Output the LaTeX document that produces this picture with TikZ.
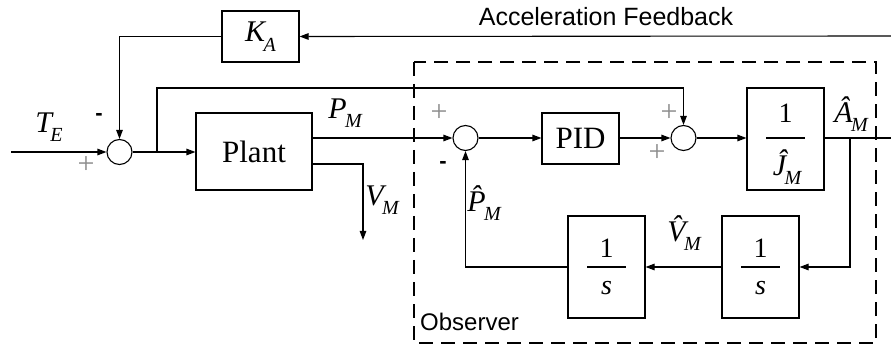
\documentclass[tikz,border=0pt]{standalone}
\usepackage{fontspec}
\setmainfont{Liberation Serif}
\setsansfont{Liberation Sans}
\usetikzlibrary{arrows.meta}
\newcommand{\fs}[1]{\fontsize{#1}{#1}\selectfont}
\newcommand{\msub}[2]{{\itshape #1}\hspace{-0.05em}\raisebox{-0.32em}{\fs{20}\itshape #2}}
\tikzset{
  blk/.style={draw, line width=1.1pt, inner sep=0pt},
  sumc/.style={draw, circle, line width=1.1pt, minimum size=25pt, inner sep=0pt},
  conn/.style={line width=1.1pt},
  arr/.style={conn, -{Triangle[length=9pt,width=6.5pt]}},
  sgn/.style={text=gray!90, font=\fs{30}, inner sep=0pt},
  mns/.style={font=\sffamily\bfseries\fs{22}, inner sep=0pt},
  lab/.style={font=\fs{30}, inner sep=0pt},
  frac/.style={font=\fs{28}, inner sep=0pt}
}
\begin{document}
\begin{tikzpicture}[x=1pt,y=-1pt]
\useasboundingbox (0,0) rectangle (891,347);
% blocks
\node[blk, minimum width=116pt, minimum height=77pt, font=\fs{31}] (plant) at (254,151.5) {Plant};
\node[blk, minimum width=77pt, minimum height=51pt, font=\fs{30}] (ka) at (260.5,36.5) {\msub{K}{A}};
\node[blk, minimum width=77pt, minimum height=51pt, font=\fs{31}] (pid) at (580.5,138.5) {PID};
\node[blk, minimum width=77pt, minimum height=102pt] (jb) at (785.5,139) {};
\node[blk, minimum width=77pt, minimum height=102pt] (i1) at (760.5,267) {};
\node[blk, minimum width=77pt, minimum height=102pt] (i2) at (606.5,267) {};
% fractions
\node[frac] (jn) at (785.5,113) {1};
\node[lab] (jd) at (787,167) {\msub{\^{J}}{M}};
\draw[conn] (766,138) -- (805,138);
\node[frac] (i1n) at (760.5,248) {1};
\node[frac] (i1d) at (760.5,288) {\itshape s};
\draw[conn] (741,267) -- (780,267);
\node[frac] (i2n) at (606.5,248) {1};
\node[frac] (i2d) at (606.5,288) {\itshape s};
\draw[conn] (587,267) -- (626,267);
% sums
\node[sumc] (s1) at (119.5,152) {};
\node[sumc] (s2) at (465.5,138) {};
\node[sumc] (s3) at (683.5,138) {};
% observer box
\draw[line width=1.1pt, dash pattern=on 14pt off 8pt] (414,62) rectangle (876,343);
\node[font=\sffamily\fs{24}, anchor=west, inner sep=0pt] (obs) at (420,322) {Observer};
\node[font=\sffamily\fs{25}, inner sep=0pt] (af) at (606,17) {Acceleration Feedback};
% coordinates
\coordinate (in) at (11,152);
\coordinate (b1) at (157,152);
\coordinate (eA) at (891,36);
\coordinate (eO) at (891,138);
\coordinate (bA) at (850,138);
\coordinate (vm) at (363,240);
% connectors
\draw[arr] (in) -- (s1.west);
\draw[arr] (s1.east) -- (plant.west |- s1);
\draw[arr] (b1) -- (157,88) -| (s3.north);
\draw[arr] (eA) -- (ka.east);
\draw[arr] (ka.west) -| (s1.north);
\draw[arr] (plant.east |- s2) -- (s2.west);
\draw[arr] (312,164) -| (vm);
\draw[arr] (s2.east) -- (pid.west |- s2);
\draw[arr] (pid.east |- s3) -- (s3.west);
\draw[arr] (s3.east) -- (jb.west |- s3);
\draw[conn] (jb.east |- s3) -- (eO);
\draw[arr] (bA) |- (i1.east);
\draw[arr] (i1.west) -- (i2.east);
\draw[arr] (i2.west) -| (s2.south);
% labels
\node[lab] (te) at (49,127) {\msub{T}{E}};
\node[lab] (pm) at (345,113) {\msub{P}{M}};
\node[lab] (vml) at (382,200) {\msub{V}{M}};
\node[lab] (am) at (851,114) {\msub{\^{A}}{M}};
\node[lab] (phm) at (484,203) {\msub{\^{P}}{M}};
\node[lab] (vhm) at (684,233) {\msub{\^{V}}{M}};
% signs
\node[mns] (m1) at (99,117) {-};
\node[sgn] (p1) at (86,165) {+};
\node[sgn] (p2) at (439,113) {+};
\node[mns] (m2) at (443,165) {-};
\node[sgn] (p3) at (669,113) {+};
\node[sgn] (p4) at (657,153) {+};
\end{tikzpicture}
\end{document}
